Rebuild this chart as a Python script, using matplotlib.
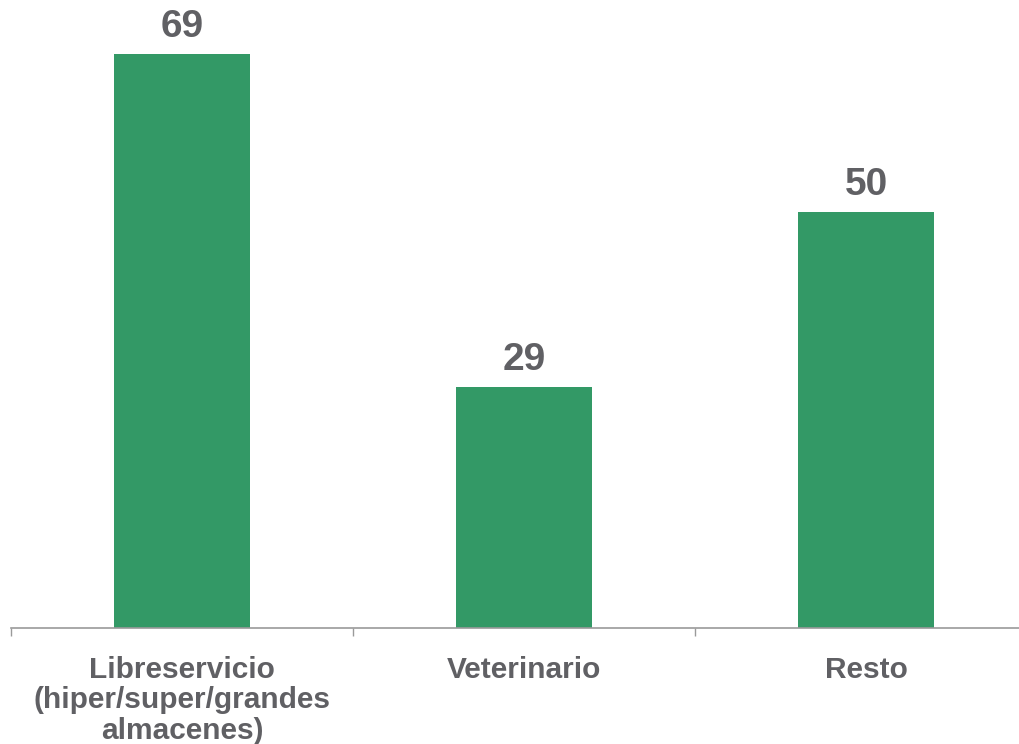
import matplotlib
matplotlib.use("Agg")
import matplotlib.pyplot as plt

categories = ["Libreservicio\n(hiper/super/grandes\nalmacenes)", "Veterinario", "Resto"]
values = [69, 29, 50]

bar_color = "#339966"
text_color = "#606064"
axis_color = "#9a9a9a"

plt.rcParams["font.family"] = ["Liberation Sans", "DejaVu Sans"]

fig = plt.figure(figsize=(10.2, 7.44), dpi=100)
ax = fig.add_axes([11 / 1020, 116 / 744, (1037 - 11) / 1020, 574 / 744])

x = list(range(len(categories)))
bars = ax.bar(x, values, width=0.4, color=bar_color, zorder=2)

ax.set_xlim(-0.5, len(categories) - 0.5)
ax.set_ylim(0, 69)

for rect, v in zip(bars, values):
    ax.annotate(f"{v}", (rect.get_x() + rect.get_width() / 2, v),
                xytext=(0, 6.5), textcoords="offset points",
                ha="center", va="bottom", fontsize=28, fontweight="bold",
                color=text_color, annotation_clip=False)

for side in ["top", "right", "left"]:
    ax.spines[side].set_visible(False)
ax.spines["bottom"].set_color(axis_color)
ax.spines["bottom"].set_linewidth(1.2)
ax.set_yticks([])

ax.set_xticks(x)
ax.set_xticklabels(categories, fontsize=21.5, fontweight="bold", color=text_color,
                   linespacing=1.12, va="top")
ax.tick_params(axis="x", which="major", length=0, pad=20)
ax.set_xticks([i - 0.5 for i in range(len(categories) + 1)], minor=True)
ax.tick_params(axis="x", which="minor", length=6, width=1, color=axis_color)

fig.savefig("out.png", dpi=100)
